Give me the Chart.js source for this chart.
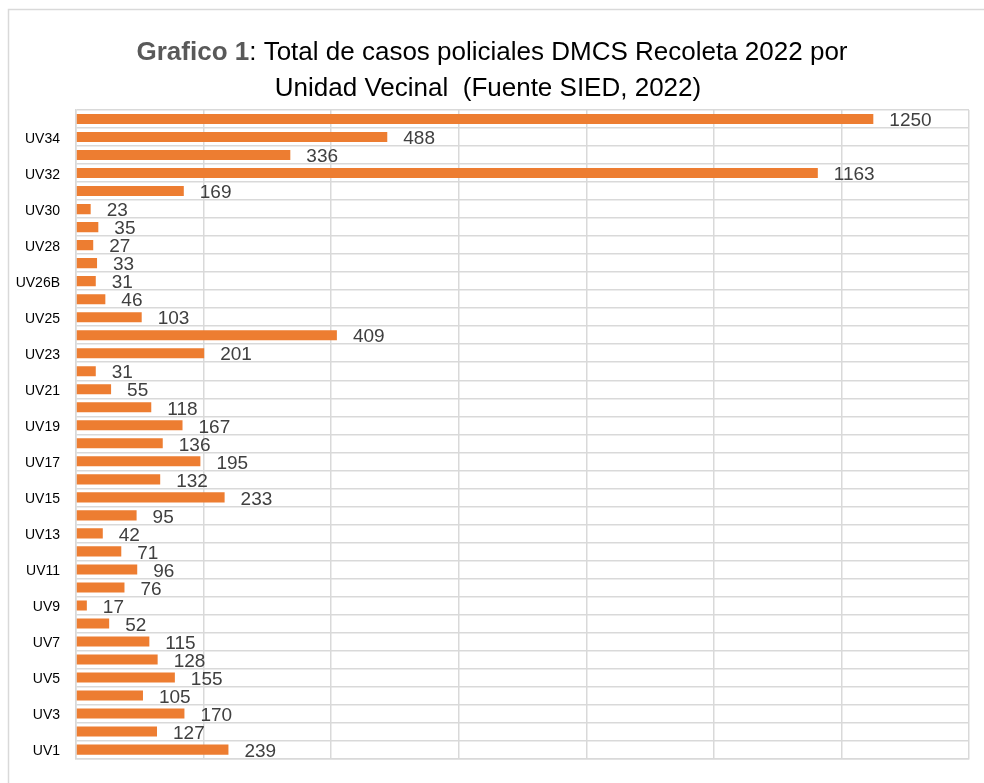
<!DOCTYPE html>
<html>
<head>
<meta charset="utf-8">
<script src="https://cdn.jsdelivr.net/npm/chart.js@4"></script>
<style>
  html, body { margin: 0; padding: 0; background: #ffffff; }
  #wrap { width: 984px; height: 783px; position: relative; }
</style>
</head>
<body>
<div id="wrap"><canvas id="c"></canvas></div>
<script>
const titleBold = 'Grafico 1';
const titleRest = ': Total de casos policiales DMCS Recoleta 2022 por';
const titleLine2 = 'Unidad Vecinal  (Fuente SIED, 2022)';

const categories = ['UV1','UV2','UV3','UV4','UV5','UV6','UV7','UV8','UV9','UV10',
  'UV11','UV12','UV13','UV14','UV15','UV16','UV17','UV18','UV19','UV20',
  'UV21','UV22','UV23','UV24','UV25','UV26A','UV26B','UV27','UV28','UV29',
  'UV30','UV31','UV32','UV33','UV34','UV35'];
const casos = [239,127,170,105,155,128,115,52,17,76,
  96,71,42,95,233,132,195,136,167,118,
  55,31,201,409,103,46,31,33,27,35,
  23,169,1163,336,488,1250];
const xTicksMax = 1400;
const xTicksStep = 200;

const GRID = '#d9d9d9';
const FONT = '"Liberation Sans", Arial, sans-serif';

const framePlugin = {
  id: 'frame',
  beforeDraw(chart) {
    const ctx = chart.ctx;
    ctx.save();
    ctx.strokeStyle = GRID;
    ctx.lineWidth = 1.5;
    ctx.strokeRect(8.5, 9.5, 1200, 1200);
    ctx.restore();
  },
  afterDraw(chart) {
    const ctx = chart.ctx;
    const cx = chart.width / 2;
    ctx.save();
    ctx.textBaseline = 'alphabetic';
    ctx.textAlign = 'left';
    const fb = 'bold 26px ' + FONT;
    const fr = '26px ' + FONT;
    ctx.font = fb; const wb = ctx.measureText(titleBold).width;
    ctx.font = fr; const wr = ctx.measureText(titleRest).width;
    let x = cx - (wb + wr) / 2;
    ctx.font = fb; ctx.fillStyle = '#595959'; ctx.fillText(titleBold, x, 60);
    ctx.font = fr; ctx.fillStyle = '#000000'; ctx.fillText(titleRest, x + wb, 60);
    ctx.textAlign = 'center';
    ctx.fillText(titleLine2, cx - 4, 96);
    // data labels
    const meta = chart.getDatasetMeta(0);
    ctx.font = '19px ' + FONT;
    ctx.fillStyle = '#404040';
    ctx.textAlign = 'left';
    ctx.textBaseline = 'middle';
    meta.data.forEach((bar, i) => {
      ctx.fillText(String(chart.data.datasets[0].data[i]), bar.x + 16, bar.y + 2);
    });
    ctx.restore();
  }
};

new Chart(document.getElementById('c'), {
  type: 'bar',
  data: {
    labels: categories,
    datasets: [{
      label: 'Casos',
      data: casos,
      backgroundColor: '#ED7D31',
      borderWidth: 0,
      categoryPercentage: 1,
      barPercentage: 0.56
    }]
  },
  options: {
    indexAxis: 'y',
    responsive: true,
    maintainAspectRatio: false,
    animation: false,
    devicePixelRatio: 1,
    layout: { padding: { top: 110, right: 15, bottom: 23, left: 0 } },
    plugins: { legend: { display: false }, title: { display: false }, tooltip: { enabled: false } },
    scales: {
      x: {
        min: 0, max: xTicksMax,
        ticks: { display: false, stepSize: xTicksStep },
        grid: { color: GRID, lineWidth: 1.5, drawTicks: false },
        border: { color: GRID, width: 1.5 },
        afterFit(s) { s.height = 0; }
      },
      y: {
        reverse: true,
        grid: { color: GRID, lineWidth: 1.5, drawTicks: false, offset: true },
        border: { color: GRID, width: 1.5 },
        ticks: {
          autoSkip: false,
          padding: 16,
          labelOffset: 2,
          color: '#000000',
          font: { family: FONT, size: 14 },
          callback(value, index) { return index % 2 === 0 ? this.getLabelForValue(value) : ''; }
        },
        afterFit(s) { s.width = 76; }
      }
    }
  },
  plugins: [framePlugin]
});
</script>
</body>
</html>
